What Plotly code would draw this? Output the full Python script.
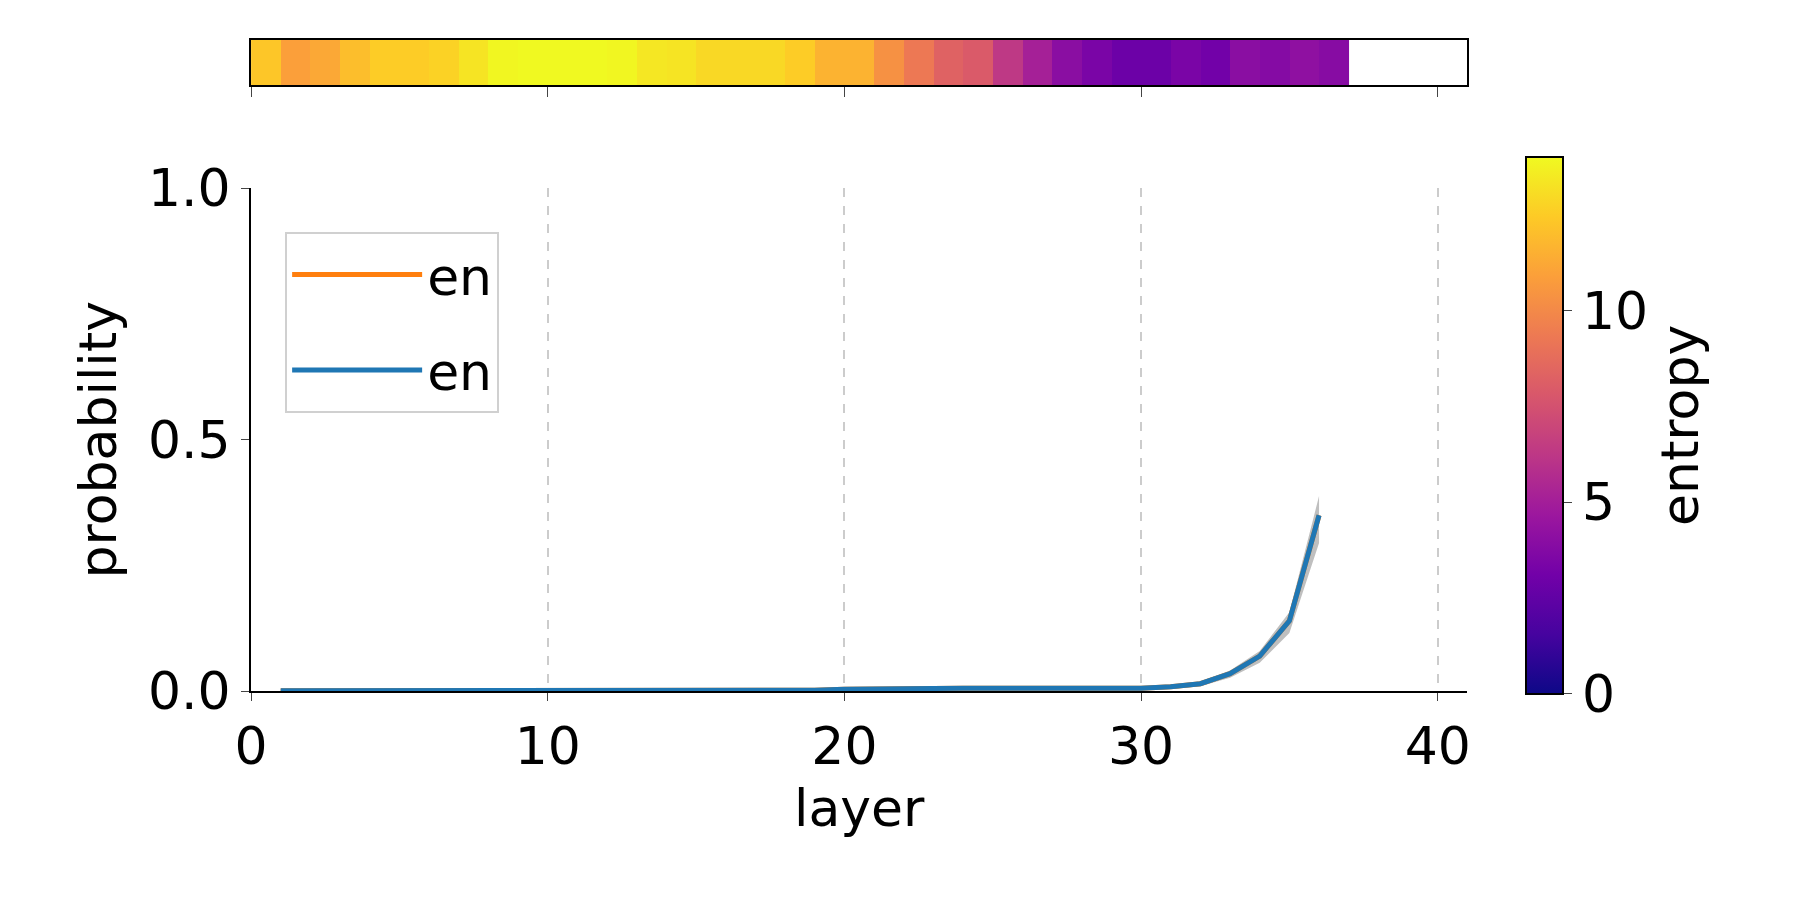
import plotly.graph_objects as go

entropy = [12.3, 10.9, 11.2, 12.0, 12.5, 12.5, 12.7, 13.3, 13.9, 14.0,
           14.0, 14.0, 13.9, 13.4, 13.3, 12.9, 12.9, 12.9, 12.5, 11.6,
           11.6, 10.3, 9.3, 8.3, 7.9, 6.3, 5.1, 4.0, 3.4, 2.9,
           2.9, 3.4, 3.1, 4.0, 3.8, 4.2, 3.9]
cell_x = [i + 0.5 for i in range(len(entropy))]

layers = list(range(1, 37))
prob = [0.001] * 18 + [0.002, 0.004, 0.005, 0.005, 0.006, 0.006, 0.006, 0.006,
                       0.006, 0.005, 0.005, 0.006, 0.009, 0.015, 0.035, 0.07,
                       0.14, 0.35]
lo = [max(p * 0.85 - 0.003, 0) for p in prob]
hi = [p * 1.1 + 0.003 for p in prob]

font = dict(family="DejaVu Sans", size=52, color="black")
fig = go.Figure()

fig.add_trace(go.Heatmap(
    x=cell_x, y=[0], z=[entropy], colorscale="Plasma", zmin=0, zmax=14,
    xaxis="x2", yaxis="y2",
    colorbar=dict(x=0.831, xanchor="left", y=0.541, yanchor="middle",
                  len=0.66, thickness=37, outlinecolor="black", outlinewidth=2,
                  tickvals=[0, 5, 10], ticks="outside", ticklen=8,
                  tickfont=font, title=dict(text="entropy", side="right", font=font)),
))

fig.add_trace(go.Scatter(x=layers + layers[::-1], y=hi + lo[::-1], fill="toself",
                         fillcolor="rgba(128,128,128,0.5)", line=dict(width=0),
                         showlegend=False, hoverinfo="skip"))
fig.add_trace(go.Scatter(x=layers, y=prob, mode="lines", name="en", legendgroup="a",
                         line=dict(color="#ff7f0e", width=5)))
fig.add_trace(go.Scatter(x=layers, y=prob, mode="lines", name="en", legendgroup="b",
                         line=dict(color="#1f77b4", width=5)))

fig.update_layout(
    width=1814, height=904, margin=dict(l=0, r=0, t=0, b=0),
    plot_bgcolor="white", paper_bgcolor="white", font=font,
    xaxis=dict(domain=[0.126, 0.804], range=[0, 41], tickvals=[0, 10, 20, 30, 40],
               showgrid=True, gridcolor="#cccccc", griddash="dash", gridwidth=2,
               showline=True, linecolor="black", linewidth=2, ticks="outside",
               ticklen=8, zeroline=False, title=dict(text="layer", font=font)),
    yaxis=dict(domain=[0.226, 0.822], range=[0, 1], tickvals=[0, 0.5, 1],
               ticktext=["0.0", "0.5", "1.0"], showgrid=False, zeroline=False,
               showline=True, linecolor="black", linewidth=2, ticks="outside",
               ticklen=8, title=dict(text="probability", font=font)),
    xaxis2=dict(domain=[0.126, 0.804], range=[0, 41], anchor="y2",
                tickvals=[0, 10, 20, 30, 40], showticklabels=False, ticks="outside",
                ticklen=10, showline=True, mirror=True, linecolor="black",
                linewidth=2, showgrid=False, zeroline=False),
    yaxis2=dict(domain=[0.944, 0.998], range=[-0.5, 0.5], anchor="x2",
                showticklabels=False, showline=True, mirror=True, linecolor="black",
                linewidth=2, showgrid=False, zeroline=False),
    legend=dict(x=0.145, y=0.77, xanchor="left", yanchor="top",
                bordercolor="#d0d0d0", borderwidth=2, font=font,
                itemwidth=130, tracegroupgap=25),
)

fig.write_html("out.html")
